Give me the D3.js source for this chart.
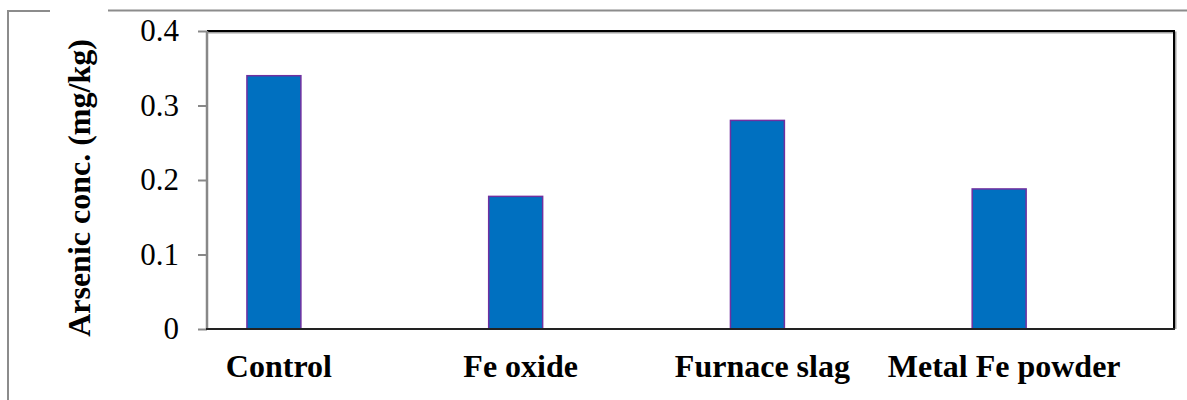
<!DOCTYPE html>
<html>
<head>
<meta charset="utf-8">
<script src="https://cdn.jsdelivr.net/npm/d3@7"></script>
<style>
  html, body { margin: 0; padding: 0; background: #fff; }
  svg { display: block; }
</style>
</head>
<body>
<div id="chart"></div>
<script>
// chart data
const categories = ["Control", "Fe oxide", "Furnace slag", "Metal Fe powder"]
const arsenicValues = [0.34, 0.178, 0.28, 0.188]
const yTicks = [0, 0.1, 0.2, 0.3, 0.4]
const yLabel = "Arsenic conc. (mg/kg)"

const width = 1187
const height = 400
const marginTop = 31        // top of plot area
const marginRight = 13      // plot ends at 1174
const marginBottom = 71     // zero line at 329
const marginLeft = 207      // y axis position

const font = "'Liberation Serif', 'Times New Roman', serif"

const svg = d3.select("#chart")
    .append("svg")
    .attr("width", width)
    .attr("height", height)
    .attr("viewBox", [0, 0, width, height])

svg.append("rect")
    .attr("width", width)
    .attr("height", height)
    .attr("fill", "#fff")

// outer frame (gray, partly cut off on the right/bottom)
const frame = svg.append("g")
    .attr("stroke", "#8c8c8c")
    .attr("stroke-width", 2)
    .attr("fill", "none")
frame.append("line").attr("x1", 8).attr("x2", 8).attr("y1", 10).attr("y2", height)
frame.append("line").attr("x1", 7).attr("x2", 50).attr("y1", 11).attr("y2", 11)
frame.append("line").attr("x1", 108).attr("x2", width).attr("y1", 10.5).attr("y2", 10.5)

// scales
const xScale = d3.scaleBand(categories, [marginLeft, width - marginRight]).padding(0)
// excel-style cluster: three slots per category, only the first one holds data
const slot = d3.scaleBand([0, 1, 2], [0, xScale.bandwidth()]).paddingInner(0).paddingOuter(0.74)
const yScale = d3.scaleLinear([0, 0.4], [height - marginBottom, marginTop])

const barX = c => xScale(c) + slot(0)
const barCenter = c => barX(c) + slot.bandwidth() / 2

// plot border top/right with a light shadow
const x0 = marginLeft, x1 = width - marginRight
const y0 = marginTop, y1 = height - marginBottom
svg.append("path")
    .attr("d", `M${x0},${y0 + 1.5} H${x1 + 1.5} V${y1}`)
    .attr("fill", "none")
    .attr("stroke", "#a0a0a0")
    .attr("stroke-width", 2)
svg.append("path")
    .attr("d", `M${x0},${y0} H${x1} V${y1}`)
    .attr("fill", "none")
    .attr("stroke", "#000")
    .attr("stroke-width", 2)

// bars
svg.append("g")
    .selectAll("rect")
    .data(categories)
    .join("rect")
    .attr("x", c => barX(c))
    .attr("y", (c, i) => yScale(arsenicValues[i]))
    .attr("width", slot.bandwidth())
    .attr("height", (c, i) => yScale(0) - yScale(arsenicValues[i]))
    .attr("fill", "#0070c0")
    .attr("stroke", "#7030a0")
    .attr("stroke-width", 1.5)

// y axis
const yAxis = d3.axisLeft(yScale)
    .tickValues(yTicks)
    .tickSize(9)
    .tickPadding(19)
    .tickFormat(d => d === 0 ? "0" : d3.format(".1f")(d))

svg.append("g")
    .attr("transform", `translate(${marginLeft},0)`)
    .call(yAxis)
    .call(g => g.select(".domain").remove())
    .call(g => g.selectAll(".tick line").attr("stroke", "#888").attr("stroke-width", 2))
    .call(g => g.selectAll(".tick text")
        .attr("fill", "#000")
        .attr("font-family", font)
        .attr("font-size", 31))

svg.append("line")
    .attr("x1", x0).attr("x2", x0)
    .attr("y1", y0).attr("y2", y1 + 1)
    .attr("stroke", "#888")
    .attr("stroke-width", 2.5)

// zero line
svg.append("line")
    .attr("x1", x0 - 1).attr("x2", x1 + 1)
    .attr("y1", yScale(0)).attr("y2", yScale(0))
    .attr("stroke", "#222")
    .attr("stroke-width", 2)

// category labels
svg.append("g")
    .selectAll("text")
    .data(categories)
    .join("text")
    .attr("x", c => barCenter(c) + 5)
    .attr("y", 377)
    .attr("text-anchor", "middle")
    .attr("font-family", font)
    .attr("font-weight", "bold")
    .attr("font-size", 32)
    .attr("fill", "#000")
    .text(c => c)

// y title
svg.append("text")
    .attr("transform", `translate(90,188) rotate(-90)`)
    .attr("text-anchor", "middle")
    .attr("font-family", font)
    .attr("font-weight", "bold")
    .attr("font-size", 32)
    .attr("fill", "#000")
    .text(yLabel)
</script>
</body>
</html>
